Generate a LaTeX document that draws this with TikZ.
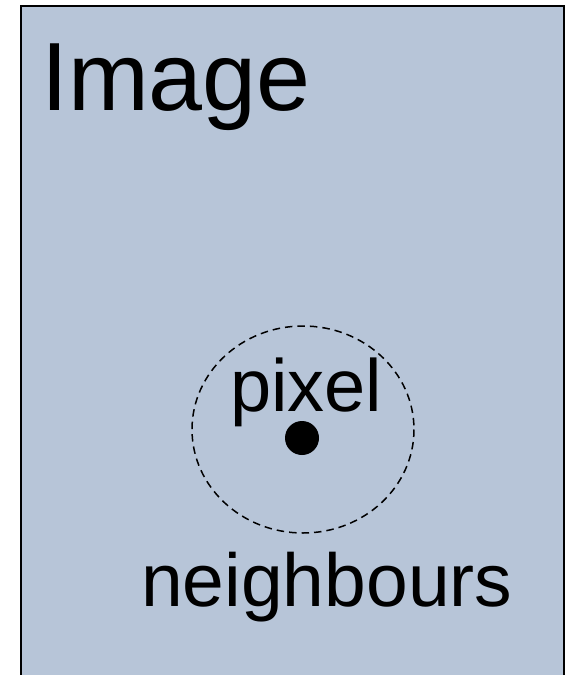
\documentclass[tikz,border=0pt]{standalone}
\usepackage{fontspec}
\setmainfont{Liberation Sans}
\definecolor{imgfill}{HTML}{B7C5D8}
\begin{document}
\begin{tikzpicture}[x=1pt,y=-1pt,
  lbl/.style={anchor=base west,inner sep=0pt,text=black},
  nbhd/.style={draw=black,line width=1.5pt,dash pattern=on 7.5pt off 5pt},
]
\useasboundingbox (0,0) rectangle (565,675);
\clip (0,0) rectangle (565,675);
\draw[fill=imgfill,line width=1.8pt] (21,6) rectangle (564,700);
\node[lbl,font=\fontsize{97}{100}\selectfont] (title) at (41,110) {Image};
\draw[nbhd] (303,429.5) ellipse [x radius=111, y radius=103.5];
\node[lbl,font=\fontsize{74}{78}\selectfont] (pix) at (230,411) {pixel};
\fill[black] (302,438) circle [radius=17];
\node[lbl,font=\fontsize{75}{78}\selectfont] (nb) at (141,606) {neighbours};
\end{tikzpicture}
\end{document}
